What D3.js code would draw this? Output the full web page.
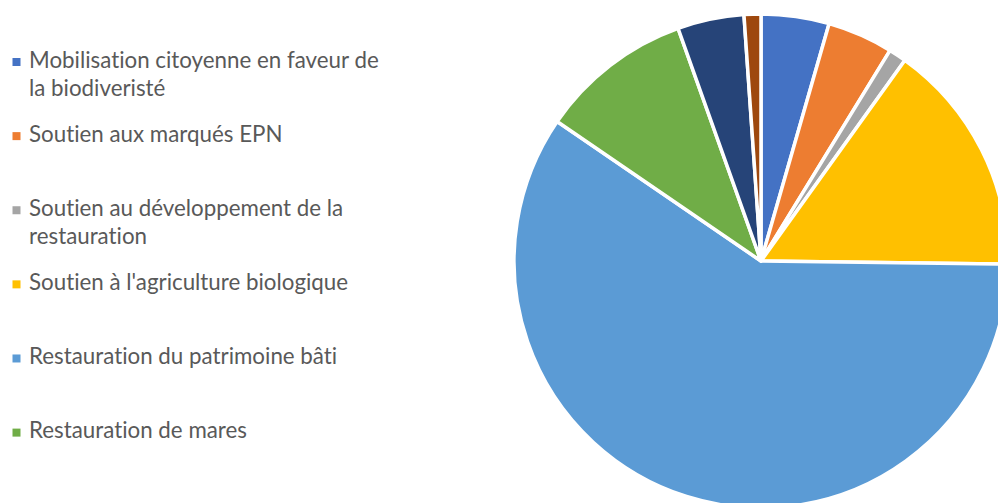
<!DOCTYPE html>
<html>
<head>
<meta charset="utf-8">
<script src="https://d3js.org/d3.v7.min.js"></script>
<style>
  body { margin: 0; background: #fff; overflow: hidden; }
  svg { display: block; }
  text { font-variant-ligatures: none; font-feature-settings: "liga" 0, "clig" 0; }
</style>
</head>
<body>
<div id="chart"></div>
<script>
// data (share of each action, %)
var categories = [
    ["Mobilisation citoyenne en faveur de", "la biodiveristé"],
    ["Soutien aux marqués EPN"],
    ["Soutien au développement de la", "restauration"],
    ["Soutien à l'agriculture biologique"],
    ["Restauration du patrimoine bâti"],
    ["Restauration de mares"],
    [""],
    [""]
];
var values = [4.45, 4.3, 1.15, 15.3, 59.35, 10.0, 4.35, 1.1];
var colors = ["#4472C4", "#ED7D31", "#A5A5A5", "#FFC000", "#5B9BD5", "#70AD47", "#264478", "#9E480E"];
var legendShown = 6; // the legend box in the original only fits the first six

var width = 998, height = 503;
var cx = 761, cy = 261, radius = 247;

var svg = d3.select("#chart")
    .append("svg")
    .attr("width", width)
    .attr("height", height);

var data = values.map(function (v, i) { return { name: categories[i], value: v, color: colors[i] }; });

// pie, clockwise from 12 o'clock, kept in data order
var pie = d3.pie()
    .sort(null)
    .value(function (d) { return d.value; });

var arc = d3.arc()
    .innerRadius(0)
    .outerRadius(radius);

svg.append("g")
    .attr("transform", "translate(" + cx + "," + cy + ")")
    .selectAll("path")
    .data(pie(data))
    .enter()
    .append("path")
    .attr("d", arc)
    .attr("fill", function (d) { return d.data.color; })
    .attr("stroke", "#fff")
    .attr("stroke-width", 3.5)
    .attr("stroke-linejoin", "round");

// legend
var legendData = data.slice(0, legendShown);
var y = d3.scalePoint()
    .domain(d3.range(legendShown))
    .range([67.7, 438.3]); // baseline of first text line of each entry

var fontFamily = "Lato, 'Open Sans', sans-serif";

// size the font so the longest line has the width seen in the picture
var probe = svg.append("text")
    .style("font-family", fontFamily)
    .style("font-size", "20px")
    .text(categories[0][0]);
var fontSize = 20 * 350 / probe.node().getComputedTextLength();
probe.remove();

var legend = svg.append("g")
    .selectAll("g")
    .data(legendData)
    .enter()
    .append("g")
    .attr("transform", function (d, i) { return "translate(0," + y(i) + ")"; });

legend.append("rect")
    .attr("x", 12.5)
    .attr("y", -9.7)
    .attr("width", 8)
    .attr("height", 8)
    .attr("fill", function (d) { return d.color; });

legend.append("text")
    .attr("x", 29)
    .style("font-family", fontFamily)
    .style("font-size", fontSize + "px")
    .attr("fill", "#595959")
    .selectAll("tspan")
    .data(function (d) { return d.name; })
    .enter()
    .append("tspan")
    .attr("x", 29)
    .attr("y", function (d, i) { return i * 28; })
    .text(function (d) { return d; });
</script>
</body>
</html>
